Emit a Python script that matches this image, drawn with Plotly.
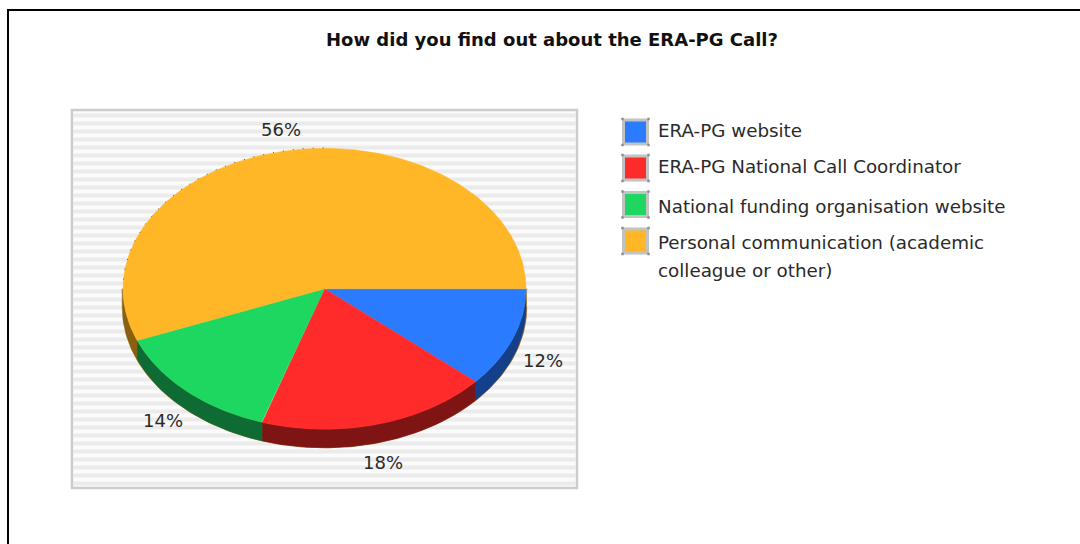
import numpy as np
import plotly.graph_objects as go

TITLE = "How did you find out about the ERA-PG Call?"
categories = ["ERA-PG website", "ERA-PG National Call Coordinator",
              "National funding organisation website",
              "Personal communication (academic<br>colleague or other)"]
values = [11.5, 18.5, 14, 56]
top_colors = ["#2a7bff", "#ff2a2a", "#1ed760", "#ffb728"]
side_colors = ["#143f8a", "#7f1414", "#0e6b33", "#8a6010"]

W, H = 1080, 544
CX, CY, RX, RY, DEPTH = 324.5, 288.8, 201.5, 140.5, 18.5
PLOT = (72, 110, 577, 488)
LABEL_POS = [(543, 362), (383, 464), (163, 422), (281, 131)]
SWATCH_X = 635.5
SWATCH_Y = [132, 168, 204.5, 241]
LEGEND_TEXT_Y = [132.5, 168.5, 208, 244.5]
LEGEND_WRAP_STEP = 28

fig = go.Figure()

shapes = [
    dict(type="rect", xref="x", yref="y", x0=PLOT[0], x1=PLOT[2], y0=PLOT[1], y1=PLOT[3],
         fillcolor="#fbfbfb", line=dict(color="#cccccc", width=2.5), layer="below"),
]
for y in np.arange(PLOT[1] + 4, PLOT[3] - 2, 8):
    shapes.append(dict(type="rect", xref="x", yref="y", x0=PLOT[0] + 1, x1=PLOT[2] - 1,
                       y0=y - 1, y1=y + 4, fillcolor="#f3f3f3", line=dict(width=0), layer="below"))
    shapes.append(dict(type="rect", xref="x", yref="y", x0=PLOT[0] + 1, x1=PLOT[2] - 1,
                       y0=y, y1=y + 3, fillcolor="#ebebeb", line=dict(width=0), layer="below"))
# page frame
shapes.append(dict(type="line", xref="x", yref="y", x0=8, x1=8, y0=10, y1=H + 2,
                   line=dict(color="#000", width=2)))
shapes.append(dict(type="line", xref="x", yref="y", x0=7, x1=W + 2, y0=10, y1=10,
                   line=dict(color="#000", width=2)))


def ell(a, dy=0.0, rx=RX):
    return CX + rx * np.cos(a), CY + RY * np.sin(a) + dy


def add_poly(xs, ys, color):
    fig.add_trace(go.Scatter(x=xs, y=ys, mode="lines", fill="toself", fillcolor=color,
                             line=dict(width=0.5, color=color), hoverinfo="skip", showlegend=False))


edges = np.radians(np.cumsum([0] + values) * 3.6)

# orange side shows as a sliver behind the others
a = np.linspace(0, np.pi, 181)
x1, y1 = ell(a, 0, RX + 0.8)
x2, y2 = ell(a[::-1], DEPTH, RX + 0.8)
add_poly(np.r_[x1, x2], np.r_[y1, y2], side_colors[3])

for i in range(4):
    lo, hi = edges[i], min(edges[i + 1], np.pi)
    if lo < hi:
        a = np.linspace(lo, hi, 120)
        x1, y1 = ell(a)
        x2, y2 = ell(a[::-1], DEPTH)
        add_poly(np.r_[x1, x2], np.r_[y1, y2], side_colors[i])

for i in range(4):
    a = np.linspace(edges[i], edges[i + 1], 240)
    x1, y1 = ell(a)
    add_poly(np.r_[CX, x1, CX], np.r_[CY, y1, CY], top_colors[i])

# dotted rim on the upper left of the large slice
a = np.linspace(np.pi * 1.02, np.pi * 1.5, 120)
x1, y1 = ell(a, -0.5)
fig.add_trace(go.Scatter(x=x1, y=y1, mode="lines", hoverinfo="skip", showlegend=False,
                         line=dict(color="#6b5a30", width=1, dash="1px 9px")))

# slice labels
fig.add_trace(go.Scatter(x=[p[0] for p in LABEL_POS], y=[p[1] for p in LABEL_POS], mode="text",
                         text=[f"{v:.0f}%" for v in values], hoverinfo="skip", showlegend=False,
                         textfont=dict(family="DejaVu Sans", size=18, color="#2a2a2a")))

# legend swatches
fig.add_trace(go.Scatter(x=[SWATCH_X] * 4, y=SWATCH_Y, mode="markers", hoverinfo="skip", showlegend=False,
                         marker=dict(symbol="square", size=24, color=top_colors,
                                     line=dict(color="#c2c2c2", width=3))))
cx = [SWATCH_X + s * 13 for _ in SWATCH_Y for s in (-1, 1, -1, 1)]
cy = [y + s * 13 for y in SWATCH_Y for s in (-1, -1, 1, 1)]
fig.add_trace(go.Scatter(x=cx, y=cy, mode="markers", hoverinfo="skip", showlegend=False,
                         marker=dict(symbol="square", size=2.5, color="#8f8f8f")))

# legend text, wrapped lines sit on their own rows
tx, ty = [], []
for name, y in zip(categories, LEGEND_TEXT_Y):
    for k, part in enumerate(name.split("<br>")):
        tx.append(part)
        ty.append(y + k * LEGEND_WRAP_STEP)
fig.add_trace(go.Scatter(x=[658] * len(tx), y=ty, mode="text", text=tx,
                         textposition="middle right", hoverinfo="skip", showlegend=False,
                         textfont=dict(family="DejaVu Sans", size=18.3, color="#2a2a2a")))

fig.add_annotation(x=551.5, y=39, xref="x", yref="y", text=f"<b>{TITLE}</b>", showarrow=False,
                   font=dict(family="DejaVu Sans", size=18, color="#111"))

fig.update_layout(
    width=W, height=H, autosize=False,
    margin=dict(l=0, r=0, t=0, b=0), paper_bgcolor="#fff", plot_bgcolor="#fff",
    shapes=shapes, showlegend=False,
    xaxis=dict(range=[0, W], visible=False, fixedrange=True),
    yaxis=dict(range=[H, 0], visible=False, fixedrange=True),
)
fig.write_html("out.html", config=dict(displayModeBar=False),
               post_script="document.body.style.margin='0';document.body.style.overflow='hidden';")
